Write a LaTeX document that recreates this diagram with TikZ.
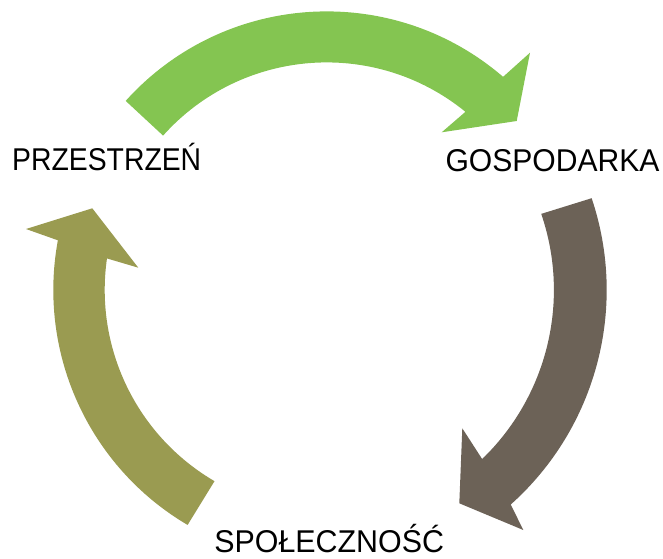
\documentclass[tikz,border=0pt]{standalone}
\usepackage{fontspec}
\setmainfont{Liberation Sans}
\newfontfamily\lblA[FakeStretch=0.90]{Liberation Sans}
\newfontfamily\lblB[FakeStretch=0.955]{Liberation Sans}
\newfontfamily\lblC[FakeStretch=0.965]{Liberation Sans}
\usetikzlibrary{calc}
\definecolor{greenA}{HTML}{84C551}
\definecolor{brownA}{HTML}{6C6257}
\definecolor{oliveA}{HTML}{9A9B51}
\begin{document}
\begin{tikzpicture}[x=1pt,y=1pt,
  lbl/.style={inner sep=0pt,anchor=base,font=\fontsize{31.5}{36}\selectfont,text=black}]
\useasboundingbox (0,0) rectangle (663,558);
% green arrow
\coordinate (cg) at (326.7,276.1);
\fill[greenA] ($(cg)+(138:270.5)$) arc[start angle=138,end angle=49.3,radius=270.5]
  -- (530,505.3) -- (516.7,437) -- (441.7,425.7)
  -- ($(cg)+(50.8:219.5)$) arc[start angle=50.8,end angle=138.2,radius=219.5] -- cycle;
% brown arrow
\coordinate (cb) at (318.9,268);
\fill[brownA] ($(cb)+(18.6:287.8)$) arc[start angle=18.6,end angle=-48.2,radius=287.8]
  -- (523.3,28) -- (459.3,54.7) -- (462.3,129.7)
  -- ($(cb)+(-46:235)$) arc[start angle=-46,end angle=18.9,radius=235] -- cycle;
% olive arrow
\coordinate (co) at (326,268);
\fill[oliveA] ($(co)+(239.5:272.7)$) arc[start angle=239.5,end angle=169.5,radius=272.7]
  -- (26,329) -- (92.3,349.7) -- (138.3,290.3)
  -- ($(co)+(171.8:221.3)$) arc[start angle=171.8,end angle=239.75,radius=221.3] -- cycle;
% labels
\node[lbl] (prz) at (106.7,388) {\lblA PRZESTRZEŃ};
\node[lbl] (gos) at (552.5,387) {\lblB GOSPODARKA};
\node[lbl] (spo) at (329.2,5.7) {\lblC SPOŁECZNOŚĆ};
\end{tikzpicture}
\end{document}
